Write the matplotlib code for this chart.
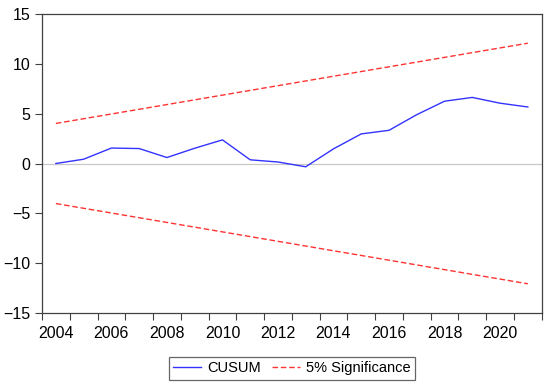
import numpy as np
import matplotlib.pyplot as plt

plt.rcParams['font.family'] = ['Liberation Sans', 'DejaVu Sans']

# CUSUM statistic per year
years = [2004, 2005, 2006, 2007, 2008, 2009, 2010, 2011, 2012,
         2013, 2014, 2015, 2016, 2017, 2018, 2019, 2020, 2021]
cusum = [0.0, 0.43, 1.55, 1.5, 0.6, 1.53, 2.37, 0.37, 0.15,
         -0.33, 1.47, 2.97, 3.33, 4.9, 6.25, 6.63, 6.05, 5.67]

# 5% significance bounds (straight lines between the end years)
bound_years = [2004, 2021]
upper = [4.02, 12.07]
lower = [-4.02, -12.07]

fig = plt.figure(figsize=(5.5, 3.84), dpi=100)
ax = fig.add_axes([42/550, 1 - 313/384, (541.7 - 42)/550, (313 - 14)/384])

ax.axhline(0, color='#c8c8c8', lw=0.9, zorder=1)
ax.plot(years, cusum, color='#3333ff', lw=1.0, label='CUSUM', zorder=3)
ax.plot(bound_years, upper, color='#ff3333', lw=1.0, ls=(0, (4, 2)),
        label='5% Significance', zorder=2)
ax.plot(bound_years, lower, color='#ff3333', lw=1.0, ls=(0, (4, 2)), zorder=2)

ax.set_xlim(2003.5, 2021.5)
ax.set_ylim(-15, 15)
ax.set_yticks(np.arange(-15, 16, 5))
ax.set_yticklabels(['\u221215', '\u221210', '\u22125', '0', '5', '10', '15'])

# year ticks sit between periods, labels on even years
ax.set_xticks(np.arange(2003.5, 2022, 1.0))
ax.set_xticklabels([])
ax.set_xticks(np.arange(2004, 2021, 2), minor=True)
ax.set_xticklabels([str(y) for y in range(2004, 2021, 2)], minor=True)
ax.tick_params(axis='x', which='minor', length=0, pad=9, labelsize=11.5)
ax.tick_params(axis='x', which='major', length=5, direction='out', color='#404040')
ax.tick_params(axis='y', length=5, direction='out', color='#404040', labelsize=11.5)

for s in ax.spines.values():
    s.set_color('#404040')
    s.set_linewidth(0.9)

leg = ax.legend(loc='upper center', bbox_to_anchor=(0.5, -0.147), ncol=2,
                borderaxespad=0, frameon=True, fancybox=False, edgecolor='#404040',
                fontsize=10.5, handlelength=1.9, handletextpad=0.45,
                columnspacing=0.75, borderpad=0.3)
leg.get_frame().set_linewidth(0.9)

fig.savefig('out.png', dpi=100)
